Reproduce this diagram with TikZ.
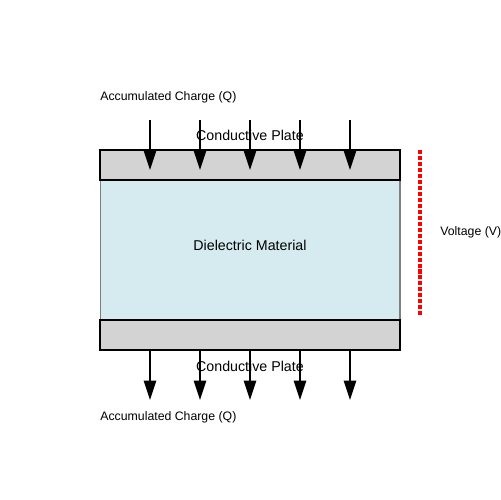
\documentclass[tikz,border=0pt]{standalone}
\usepackage{fontspec}
\setmainfont{Liberation Sans}
\usetikzlibrary{arrows.meta}
\tikzset{>={Triangle[length=11pt,width=7pt]}}
\definecolor{plategray}{RGB}{211,211,211}
\definecolor{dielblue}{RGB}{214,235,240}
\tikzset{plate/.style={draw,line width=1.1pt,fill=plategray,minimum width=6cm,minimum height=0.6cm,inner sep=0pt},
dielectric/.style={draw=gray,line width=0.6pt,fill=dielblue,minimum width=6cm,minimum height=2.8cm,inner sep=0pt},
charge/.style={->,line width=1.1pt},
lbl/.style={font=\fontsize{8.1pt}{9pt}\selectfont,inner sep=0pt},
small/.style={font=\fontsize{7pt}{8pt}\selectfont,inner sep=0pt,anchor=west}}

\begin{document}
\begin{tikzpicture}[x=0.02cm,y=-0.02cm]
\useasboundingbox (0,0) rectangle (500,500);
\node[dielectric] (diel) at (250,250) {};
\node[plate] (top) at (250,165) {};
\node[plate] (bot) at (250,335) {};
\node[lbl] (dieltext) at (250,245) {Dielectric Material};
\node[small] (qtop) at (100,97) {Accumulated Charge (Q)};
\node[small] (qbot) at (100,417) {Accumulated Charge (Q)};
\node[small] (volt) at (440,232) {Voltage (V)};
\foreach \x in {150,200,250,300,350} {
\coordinate (ts\x) at (\x,120);
\coordinate (te\x) at (\x,170);
\draw[charge] (ts\x) -- (te\x);
\coordinate (bs\x) at (\x,350);
\coordinate (be\x) at (\x,400);
\draw[charge] (bs\x) -- (be\x);
}
\node[lbl] (toptext) at (250,135) {Conductive Plate};
\node[lbl] (bottext) at (250,366) {Conductive Plate};
\coordinate (va) at (420,150);
\coordinate (vb) at (420,315);
\draw[red,line width=2pt,dash pattern=on 2.3pt off 1.1pt] (va) -- (vb);
\end{tikzpicture}
\end{document}
